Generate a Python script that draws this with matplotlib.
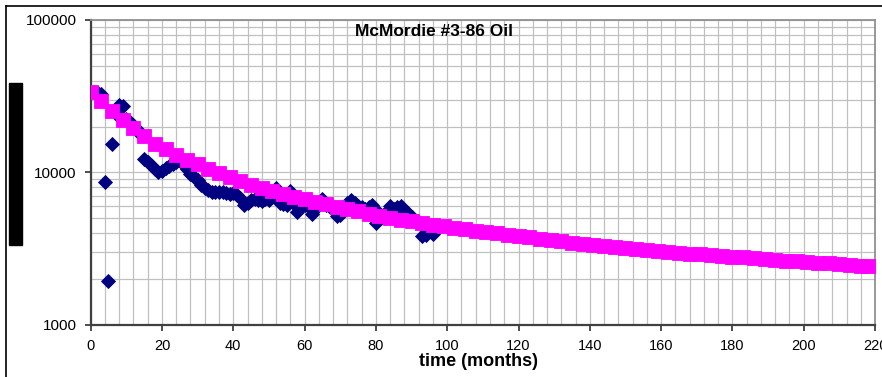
import matplotlib
matplotlib.use("Agg")
import matplotlib.pyplot as plt
from matplotlib.ticker import MultipleLocator, FixedLocator, LogLocator, NullFormatter
from matplotlib.patches import Rectangle
from matplotlib.lines import Line2D

plt.rcParams['font.family'] = ['Liberation Sans', 'DejaVu Sans']

# production data (monthly oil, bbl)
months_obs = list(range(1, 97))
oil_obs = [33500, 33000, 32500, 8700, 1950, 15400, 24000, 27800, 27200, 22500,
           21500, 20500, 19300, 17500, 12300, 11800, 11200, 10500, 10100, 10300,
           10700, 11000, 11300, 11800, 12000, 11400, 10600, 9800, 9300, 8900,
           8300, 7900, 7700, 7500, 7400, 7400, 7500, 7300, 7200, 7300,
           7100, 6800, 6100, 6300, 6600, 6700, 6600, 6500, 6700, 6600,
           6900, 7900, 6300, 6200, 6100, 7600, 6200, 5500, 6000, 6100,
           6000, 5350, 5800, 6300, 6700, 6100, 5900, 5800, 5200, 5300,
           5700, 6300, 6600, 6300, 6000, 5900, 5800, 5900, 6100, 4650,
           5400, 5300, 5500, 6000, 5800, 5900, 6000, 5700, 5400, 5100,
           4900, 4700, 3850, 3900, 4300, 3950]

# decline curve fit
months_fit = list(range(0, 217, 3)) + [218]
oil_fit = [33960, 29310, 25290, 22010, 19520, 17310, 15430, 14220, 13110, 12080,
           11300, 10580, 9920, 9350, 8820, 8320, 7940, 7580, 7240, 6920,
           6660, 6410, 6170, 5960, 5750, 5560, 5370, 5180, 5040, 4910,
           4790, 4670, 4550, 4440, 4340, 4250, 4160, 4080, 3990, 3910,
           3830, 3750, 3680, 3600, 3530, 3460, 3390, 3330, 3280, 3240,
           3190, 3140, 3090, 3050, 3010, 2970, 2940, 2900, 2870, 2830,
           2800, 2770, 2740, 2710, 2670, 2640, 2610, 2590, 2560, 2530,
           2510, 2480, 2450, 2440]

x_ticks = [0, 20, 40, 60, 80, 100, 120, 140, 160, 180, 200, 220]
y_ticks = [1000, 10000, 100000]
y_labels = ['1000', '10000', '100000']

fig = plt.figure(figsize=(8.82, 3.77), dpi=100)
ax = fig.add_axes([0.1028, 0.138, 0.8893, 0.809])

ax.plot(months_obs, oil_obs, linestyle='none', marker='D', ms=7.6,
        color='#000080', mec='#000080', mew=0.6, zorder=3)
ax.plot(months_fit, oil_fit, linestyle='none', marker='s', ms=9.6,
        color='#ff00ff', mec='#ff00ff', mew=0.6, zorder=4)

ax.set_yscale('log')
ax.set_ylim(1000, 100000)
ax.set_xlim(0, 220)

ax.xaxis.set_major_locator(FixedLocator(x_ticks))
ax.xaxis.set_minor_locator(MultipleLocator(4))
ax.yaxis.set_major_locator(FixedLocator(y_ticks))
ax.set_yticklabels(y_labels)
ax.yaxis.set_minor_locator(LogLocator(base=10, subs=range(2, 10)))
ax.yaxis.set_minor_formatter(NullFormatter())

ax.grid(True, which='both', color='#c0c0c0', linewidth=0.9)
ax.set_axisbelow(True)

ax.tick_params(axis='both', which='major', length=4, width=1.3, color='#404040',
               labelsize=10.5)
ax.tick_params(axis='y', which='major', pad=6, labelsize=11)
ax.tick_params(axis='x', which='major', pad=6)
ax.tick_params(axis='both', which='minor', length=0)

for side in ['left', 'bottom']:
    ax.spines[side].set_color('#404040')
    ax.spines[side].set_linewidth(1.6)
for side in ['top', 'right']:
    ax.spines[side].set_color('#909090')
    ax.spines[side].set_linewidth(1.3)

ax.text(0.4377, 0.962, 'McMordie #3-86 Oil', transform=ax.transAxes,
        ha='center', va='center', fontsize=12.5, fontweight='bold')

ax.set_xlabel('time (months)', fontsize=13, fontweight='bold')
ax.xaxis.set_label_coords(0.494, -0.12)
ax.xaxis.label.set_va('center')

# hidden y-axis title box and outer chart frame
fig.patches.append(Rectangle((0.0102, 0.350), 0.0147, 0.430,
                             transform=fig.transFigure, color='black'))
fig.lines.append(Line2D([0.0068, 1.0], [0.984, 0.984], transform=fig.transFigure,
                        color='black', linewidth=1.2))
fig.lines.append(Line2D([0.0068, 0.0068], [0.0, 0.984], transform=fig.transFigure,
                        color='black', linewidth=1.2))

fig.savefig('out.png', dpi=100)
